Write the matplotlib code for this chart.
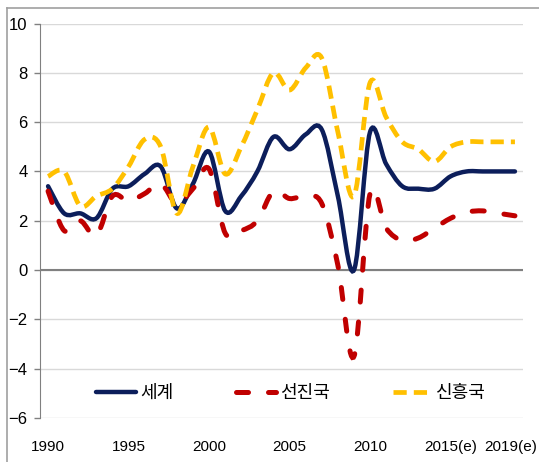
import numpy as np
import matplotlib
matplotlib.use("Agg")
import matplotlib.pyplot as plt
from matplotlib.path import Path
from matplotlib.patches import PathPatch
from matplotlib.lines import Line2D
from matplotlib.transforms import ScaledTranslation

plt.rcParams['font.family'] = ['Liberation Sans', 'Noto Sans CJK KR', 'DejaVu Sans']

# 연도 (category axis)
years = list(range(1990, 2020))
tick_labels = ['1990', '1995', '2000', '2005', '2010', '2015(e)', '2019(e)']
tick_years = [1990, 1995, 2000, 2005, 2010, 2015, 2019]

# 경제성장률 (%)
world = [3.4, 2.3, 2.3, 2.1, 3.3, 3.4, 3.9, 4.2, 2.5, 3.5,
         4.8, 2.4, 3.0, 4.0, 5.4, 4.9, 5.5, 5.7, 3.0, 0.0,
         5.6, 4.3, 3.4, 3.3, 3.3, 3.8, 4.0, 4.0, 4.0, 4.0]
advanced = [3.2, 1.6, 2.0, 1.4, 3.0, 2.8, 3.1, 3.5, 2.7, 3.3,
            4.1, 1.5, 1.6, 2.0, 3.2, 2.9, 3.0, 2.7, 0.2, -3.5,
            3.1, 1.7, 1.2, 1.3, 1.7, 2.1, 2.35, 2.4, 2.3, 2.2]
emerging = [3.8, 4.0, 2.6, 3.0, 3.3, 4.2, 5.3, 5.0, 2.3, 4.2,
            5.8, 3.9, 5.0, 6.5, 8.0, 7.3, 8.2, 8.6, 5.6, 3.0,
            7.6, 6.2, 5.2, 4.9, 4.4, 5.0, 5.2, 5.2, 5.2, 5.2]
names = ['세계', '선진국', '신흥국']


def smooth_path(xs, ys):
    # Excel 스타일 곡선 (Catmull-Rom -> Bezier)
    pts = np.column_stack([xs, ys])
    verts = [pts[0]]
    codes = [Path.MOVETO]
    n = len(pts)
    for i in range(n - 1):
        p0 = pts[max(i - 1, 0)]
        p1 = pts[i]
        p2 = pts[i + 1]
        p3 = pts[min(i + 2, n - 1)]
        c1 = p1 + (p2 - p0) / 6.0
        c2 = p2 - (p3 - p1) / 6.0
        verts += [c1, c2, p2]
        codes += [Path.CURVE4] * 3
    return Path(verts, codes)


fig = plt.figure(figsize=(5.39, 4.62), dpi=100)
ax = fig.add_axes([40 / 539, 1 - 418 / 462, 483 / 539, (418 - 23.5) / 462])

x = np.arange(len(years)) + 0.5

styles = [
    dict(color='#0C1E5B', lw=3.2, ls='-', cap='round'),
    dict(color='#C00000', lw=3.6, ls=(0, (2.4, 4.0)), cap='round'),
    dict(color='#FFC000', lw=3.4, ls=(0, (2.8, 1.5)), cap='butt'),
]
series = [world, advanced, emerging]

handles = []
for vals, st, name in zip(series, styles, names):
    patch = PathPatch(smooth_path(x, np.array(vals)), fill=False,
                      edgecolor=st['color'], lw=st['lw'], ls=st['ls'], zorder=3)
    patch.set_capstyle(st['cap'])
    ax.add_patch(patch)
    handles.append(Line2D([], [], color=st['color'], lw=st['lw'], ls=st['ls'],
                          solid_capstyle='round', dash_capstyle=st['cap'], label=name))

ax.set_xlim(0, len(years))
ax.set_ylim(-6, 10)
ax.set_yticks(range(-6, 11, 2))
ax.yaxis.grid(True, color='#D9D9D9', lw=1)
ax.axhline(0, color='#808080', lw=1.5, zorder=2)
ax.set_axisbelow(True)

ax.set_xticks([years.index(y) + 0.5 for y in tick_years])
ax.set_xticklabels(tick_labels)
ax.tick_params(axis='x', length=0, pad=16, labelsize=11)
ax.tick_params(axis='y', length=4, width=1, color='#808080', pad=5, labelsize=12)

# 마지막 라벨을 약간 왼쪽으로
last = ax.get_xticklabels()[-1]
last.set_transform(last.get_transform() + ScaledTranslation(-0.04, 0, fig.dpi_scale_trans))

for s in ['top', 'right', 'bottom']:
    ax.spines[s].set_visible(False)
ax.spines['left'].set_color('#808080')

leg = ax.legend(handles=handles, loc='center', bbox_to_anchor=(0.52, 0.0625),
                ncol=3, frameon=False, fontsize=13, handlelength=2.2,
                columnspacing=3.5, handletextpad=0.2)

# 바깥 테두리
fig.add_artist(Line2D([7 / 539, 7 / 539], [0, 1 - 8 / 462], color='#A0A0A0', lw=1.2))
fig.add_artist(Line2D([7 / 539, 1], [1 - 8 / 462, 1 - 8 / 462], color='#A0A0A0', lw=1.2))

fig.savefig('out.png', dpi=100)
